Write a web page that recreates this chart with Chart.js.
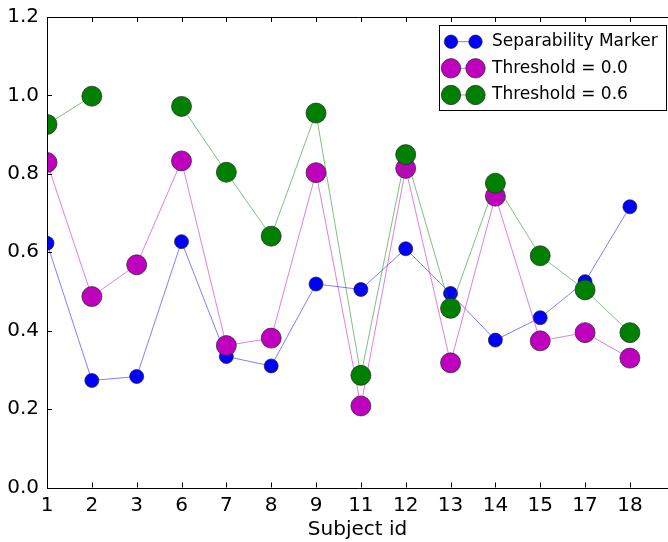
<!DOCTYPE html>
<html>
<head>
<meta charset="utf-8">
<script src="https://cdn.jsdelivr.net/npm/chart.js@4.4.1/dist/chart.umd.min.js"></script>
<style>
  html, body { margin: 0; padding: 0; background: #fff; overflow: hidden; }
  #wrap { width: 668px; height: 542px; }
</style>
</head>
<body>
<div id="wrap"><canvas id="chart" width="668" height="542"></canvas></div>
<script>
// ---- data ----
const subjects = ['1', '2', '3', '6', '7', '8', '9', '11', '12', '13', '14', '15', '17', '18'];
const separability = [0.623, 0.273, 0.283, 0.627, 0.334, 0.310, 0.519, 0.505, 0.609, 0.495, 0.376, 0.433, 0.525, 0.716];
const threshold00 = [0.829, 0.487, 0.568, 0.833, 0.362, 0.381, 0.803, 0.208, 0.814, 0.318, 0.743, 0.374, 0.395, 0.330];
const threshold06 = [0.926, 0.998, null, 0.972, 0.804, 0.641, 0.955, 0.286, 0.849, 0.457, 0.776, 0.591, 0.504, 0.395];
const yTicks = [0, 0.2, 0.4, 0.6, 0.8, 1.0, 1.2];
const seriesNames = ['Separability Marker', 'Threshold = 0.0', 'Threshold = 0.6'];

const FONT = 'DejaVu Sans';

function toPoints(values) {
    return values.map((v, i) => ({ x: i, y: v }));
}

function makeSeries(label, values, color, lineColor, radius, order) {
    return {
        label: label,
        data: toPoints(values),
        borderColor: lineColor,
        borderWidth: 1,
        backgroundColor: color,
        pointBackgroundColor: color,
        pointBorderColor: '#222',
        pointBorderWidth: 0.7,
        pointRadius: radius,
        pointHoverRadius: radius,
        spanGaps: false,
        tension: 0,
        order: order
    };
}

const legendItems = [
    { name: seriesNames[0], color: '#0000ff', line: 'rgba(0,0,255,0.5)', r: 6.7 },
    { name: seriesNames[1], color: '#bf00bf', line: 'rgba(191,0,191,0.5)', r: 9.7 },
    { name: seriesNames[2], color: '#008000', line: 'rgba(0,128,0,0.5)', r: 9.7 }
];

// axes frame + inward ticks, matplotlib classic style
const framePlugin = {
    id: 'frame',
    afterDatasetsDraw(chart) {
        const { ctx, chartArea: a, scales } = chart;
        ctx.save();
        ctx.strokeStyle = '#000';
        ctx.lineWidth = 1;
        ctx.beginPath();
        ctx.moveTo(Math.round(a.left) + 0.5, Math.round(a.bottom) + 0.5);
        ctx.lineTo(Math.round(a.left) + 0.5, Math.round(a.top) + 0.5);
        ctx.lineTo(a.right + 2, Math.round(a.top) + 0.5);
        ctx.moveTo(Math.round(a.left) + 0.5, Math.round(a.bottom) + 0.5);
        ctx.lineTo(a.right + 2, Math.round(a.bottom) + 0.5);
        ctx.stroke();

        const tl = 5;
        ctx.beginPath();
        subjects.forEach((_, i) => {
            const x = Math.round(scales.x.getPixelForValue(i)) + 0.5;
            ctx.moveTo(x, a.bottom);
            ctx.lineTo(x, a.bottom - tl);
            ctx.moveTo(x, a.top);
            ctx.lineTo(x, a.top + tl);
        });
        yTicks.forEach(v => {
            const y = Math.round(scales.y.getPixelForValue(v)) + 0.5;
            ctx.moveTo(a.left, y);
            ctx.lineTo(a.left + tl, y);
        });
        ctx.stroke();
        ctx.restore();
    },
    afterDraw(chart) {
        const ctx = chart.ctx;
        const box = { left: 439.5, top: 25.5, right: 666.5, bottom: 110.5 };
        const rows = [41.7, 68.3, 95];
        ctx.save();
        ctx.fillStyle = '#fff';
        ctx.fillRect(box.left, box.top, box.right - box.left, box.bottom - box.top);
        ctx.strokeStyle = '#000';
        ctx.lineWidth = 1;
        ctx.strokeRect(box.left, box.top, box.right - box.left, box.bottom - box.top);

        legendItems.forEach((item, i) => {
            const y = rows[i];
            const x1 = 451, x2 = 475.5;
            ctx.strokeStyle = item.line;
            ctx.lineWidth = 1;
            ctx.beginPath();
            ctx.moveTo(x1, y);
            ctx.lineTo(x2, y);
            ctx.stroke();
            [x1, x2].forEach(x => {
                ctx.beginPath();
                ctx.arc(x, y, item.r, 0, Math.PI * 2);
                ctx.fillStyle = item.color;
                ctx.fill();
                ctx.strokeStyle = '#222';
                ctx.lineWidth = 0.7;
                ctx.stroke();
            });
            ctx.fillStyle = '#000';
            ctx.font = '17px "' + FONT + '"';
            ctx.textBaseline = 'middle';
            ctx.textAlign = 'left';
            ctx.fillText(item.name, 492, y);
        });
        ctx.restore();
    }
};

const ctx = document.getElementById('chart').getContext('2d');

new Chart(ctx, {
    type: 'line',
    data: {
        datasets: [
            makeSeries(seriesNames[0], separability, '#0000ff', 'rgba(0,0,255,0.5)', 7, 3),
            makeSeries(seriesNames[1], threshold00, '#bf00bf', 'rgba(191,0,191,0.5)', 10, 2),
            makeSeries(seriesNames[2], threshold06, '#008000', 'rgba(0,128,0,0.5)', 10, 1)
        ]
    },
    options: {
        responsive: false,
        animation: false,
        devicePixelRatio: 1,
        layout: { autoPadding: false, padding: { top: 17, right: 0, left: 0, bottom: 0 } },
        plugins: {
            legend: { display: false },
            tooltip: { enabled: false }
        },
        scales: {
            x: {
                type: 'linear',
                min: 0,
                max: 13.85,
                afterFit: (scale) => {
                    scale.height = 54.5;
                    scale.paddingLeft = 0;
                    scale.paddingRight = 0;
                },
                afterBuildTicks: (scale) => { scale.ticks = subjects.map((_, i) => ({ value: i })); },
                grid: { display: false, drawTicks: false },
                border: { display: false },
                ticks: {
                    padding: 6,
                    maxRotation: 0,
                    autoSkip: false,
                    color: '#000',
                    font: { family: FONT, size: 20 },
                    callback: (v) => subjects[v]
                },
                title: {
                    display: true,
                    text: 'Subject id',
                    color: '#000',
                    font: { family: FONT, size: 20 },
                    padding: { top: 0, bottom: 0 }
                }
            },
            y: {
                min: 0,
                max: 1.2,
                afterFit: (scale) => {
                    scale.width = 47;
                    scale.paddingTop = 0;
                    scale.paddingBottom = 0;
                },
                afterBuildTicks: (scale) => { scale.ticks = yTicks.map(v => ({ value: v })); },
                grid: { display: false, drawTicks: false },
                border: { display: false },
                ticks: {
                    padding: 8,
                    color: '#000',
                    font: { family: FONT, size: 20 },
                    callback: (v) => v.toFixed(1)
                }
            }
        }
    },
    plugins: [framePlugin]
});
</script>
</body>
</html>
